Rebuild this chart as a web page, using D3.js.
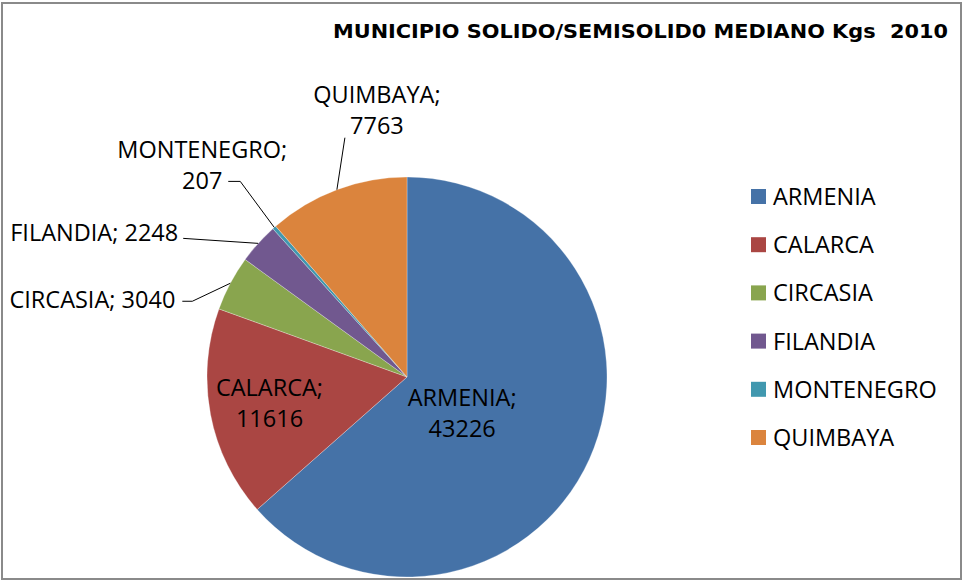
<!DOCTYPE html>
<html>
<head>
<meta charset="utf-8">
<script src="https://cdn.jsdelivr.net/npm/d3@7"></script>
<style>
  html, body { margin: 0; padding: 0; background: #fff; }
  svg { display: block; }
  text { white-space: pre; }
</style>
</head>
<body>
<svg id="chart" width="963" height="580"></svg>
<script>
// ---- data ----
const categories = ["ARMENIA", "CALARCA", "CIRCASIA", "FILANDIA", "MONTENEGRO", "QUIMBAYA"];
const values = [43226, 11616, 3040, 2248, 207, 7763];
const colors = ["#4572A7", "#AA4643", "#89A54E", "#71588F", "#4198AF", "#DB843D"];
const title = "MUNICIPIO SOLIDO/SEMISOLID0 MEDIANO Kgs  2010";

// ---- layout (not data) ----
const W = 963, H = 580;
const cx = 407, cy = 377, R = 200;
const labelFont = "'Open Sans', 'Noto Sans', sans-serif";
const labelSize = 23.5;

const labelLayout = {
  ARMENIA:    { type: "inside", r: 0.33, dx: -5, dy: 9 },
  CALARCA:    { type: "inside", r: 0.70, dx: 0, dy: 0 },
  CIRCASIA:   { type: "outside", elbow: [-38, 18], hx: -10, anchor: "end", lines: 1, tx: -7, ty: 7 },
  FILANDIA:   { type: "outside", elbow: [-75, -5], hx: 0, anchor: "end", lines: 1, tx: -5, ty: 3 },
  MONTENEGRO: { type: "outside", elbow: [-34, -46], hx: -12, anchor: "middle", lines: 2, tx: -26, ty: 8 },
  QUIMBAYA:   { type: "outside", elbow: [8, -52], hx: 0, anchor: "middle", lines: 2, tx: 32, ty: -4 }
};

const svg = d3.select("#chart");

// frame
svg.append("rect")
  .attr("x", 2).attr("y", 3).attr("width", 959).attr("height", 576)
  .attr("fill", "#fff").attr("stroke", "#8a8a8a").attr("stroke-width", 2);

// title
svg.append("text")
  .attr("x", 948).attr("y", 38)
  .attr("text-anchor", "end")
  .attr("font-family", "'Liberation Sans Narrow', 'Arial Narrow', 'DejaVu Sans Condensed', sans-serif")
  .attr("font-weight", "bold")
  .attr("font-size", 20)
  .attr("textLength", 615)
  .attr("lengthAdjust", "spacingAndGlyphs")
  .attr("fill", "#000")
  .text(title);

const data = categories.map((c, i) => ({ name: c, value: values[i], color: colors[i] }));

const pie = d3.pie().sort(null).value(d => d.value);
const arcs = pie(data);
const arc = d3.arc().innerRadius(0).outerRadius(R);

const g = svg.append("g").attr("transform", `translate(${cx},${cy})`);

g.selectAll("path.slice")
  .data(arcs)
  .join("path")
  .attr("class", "slice")
  .attr("d", arc)
  .attr("fill", d => d.data.color)
  .attr("stroke", "#ffffff")
  .attr("stroke-opacity", 0.35)
  .attr("stroke-width", 0.8);

// labels
const lineH = 31;
arcs.forEach(a => {
  const L = labelLayout[a.data.name];
  const mid = (a.startAngle + a.endAngle) / 2;
  const px = Math.sin(mid), py = -Math.cos(mid);
  const twoLines = L.type === "inside" || L.lines === 2;
  const lines = twoLines ? [a.data.name + ";", String(a.data.value)]
                         : [a.data.name + "; " + a.data.value];
  const t = g.append("text")
    .attr("font-family", labelFont)
    .attr("font-size", labelSize)
    .attr("fill", "#000");
  if (L.type === "inside") {
    const x = px * R * L.r + L.dx;
    const y = py * R * L.r + L.dy;
    t.attr("text-anchor", "middle");
    const y0 = y - (lines.length - 1) * lineH / 2 + 8;
    lines.forEach((s, i) => t.append("tspan").attr("x", x).attr("y", y0 + i * lineH).text(s));
  } else {
    const ex = px * R, ey = py * R;
    const bx = ex + L.elbow[0], by = ey + L.elbow[1];
    const pts = [[ex, ey], [bx, by]];
    if (L.hx) pts.push([bx + L.hx, by]);
    g.append("path")
      .attr("d", d3.line()(pts))
      .attr("fill", "none")
      .attr("stroke", "#000")
      .attr("stroke-width", 1);
    const last = pts[pts.length - 1];
    const x = last[0] + L.tx;
    const y = last[1] + L.ty;
    t.attr("text-anchor", L.anchor);
    lines.forEach((s, i) => t.append("tspan").attr("x", x).attr("y", y - (lines.length - 1 - i) * lineH).text(s));
  }
});

// legend
const legend = svg.append("g").attr("transform", "translate(751,189)");
const rowH = 48.2;
const items = legend.selectAll("g.item")
  .data(data)
  .join("g")
  .attr("class", "item")
  .attr("transform", (d, i) => `translate(0,${i * rowH})`);
items.append("rect")
  .attr("x", 0).attr("y", 0).attr("width", 15).attr("height", 15)
  .attr("fill", d => d.color);
items.append("text")
  .attr("x", 22).attr("y", 16)
  .attr("font-family", labelFont)
  .attr("font-size", labelSize)
  .attr("fill", "#000")
  .text(d => d.name);
</script>
</body>
</html>
